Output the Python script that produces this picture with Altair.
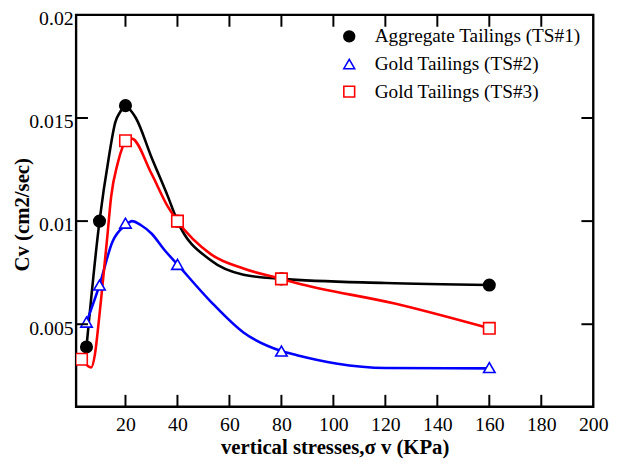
import altair as alt
import pandas as pd

series = ["Aggregate Tailings (TS#1)", "Gold Tailings (TS#2)", "Gold Tailings (TS#3)"]
colors = ["black", "blue", "red"]
fills = ["black", "white", "white"]
shapes = ["circle", "triangle-up", "square"]

# measured points (markers)
ts1_x = [5, 10, 20, 40, 80, 160]
ts1_y = [0.0039, 0.0100, 0.0156, 0.0100, 0.0072, 0.0069]
ts2_x = [5, 10, 20, 40, 80, 160]
ts2_y = [0.0051, 0.0069, 0.0099, 0.0079, 0.0037, 0.0029]
ts3_x = [3.1, 20, 40, 80, 160]
ts3_y = [0.0033, 0.0139, 0.0100, 0.0072, 0.0048]

# smoothed curves
ts1_cx = [5, 10, 13.6, 16.1, 18, 20, 22.4, 24, 30, 36.3, 40, 52.8, 65.4, 80, 120, 160]
ts1_cy = [0.0039, 0.0100, 0.0131, 0.0148, 0.0153, 0.0156, 0.0153, 0.0150, 0.0131, 0.0112, 0.0100, 0.0081, 0.0074, 0.0072, 0.0070, 0.0069]
ts2_cx = [5, 10, 15, 20, 22.5, 26, 30, 35, 40, 52.8, 65.4, 80, 86, 101, 120, 160]
ts2_cy = [0.0051, 0.0069, 0.0090, 0.0098, 0.0100, 0.0098, 0.0094, 0.0086, 0.0079, 0.0061, 0.0046, 0.0037, 0.0035, 0.0031, 0.00288, 0.00286]
ts3_cx = [3.1, 6.8, 8.2, 9.7, 11, 12.9, 14.5, 17, 18.9, 20, 22.4, 30, 36.3, 40, 52.8, 65.4, 80, 85.7, 123.6, 160]
ts3_cy = [0.0033, 0.0029, 0.0035, 0.0051, 0.0067, 0.0091, 0.0112, 0.0128, 0.0136, 0.0139, 0.0140, 0.0123, 0.0107, 0.0100, 0.0084, 0.0077, 0.0072, 0.0070, 0.0060, 0.0048]

x_ticks = [20, 40, 60, 80, 100, 120, 140, 160, 180, 200]
y_ticks = [0.005, 0.01, 0.015, 0.02]

W, H = 524, 397
FONT = "Liberation Serif"

pts = pd.DataFrame(
    [{"series": series[0], "x": a, "y": b} for a, b in zip(ts1_x, ts1_y)]
    + [{"series": series[1], "x": a, "y": b} for a, b in zip(ts2_x, ts2_y)]
    + [{"series": series[2], "x": a, "y": b} for a, b in zip(ts3_x, ts3_y)]
)
curve_sets = [(ts1_cx, ts1_cy), (ts2_cx, ts2_cy), (ts3_cx, ts3_cy)]
xt = pd.DataFrame({"x": x_ticks[:-1]})
yt = pd.DataFrame({"y": y_ticks[:-1]})

xscale = alt.Scale(domain=[1, 200], nice=False, zero=False)
yscale = alt.Scale(domain=[0.001, 0.02], nice=False, zero=False)

xaxis = alt.Axis(values=x_ticks, title="vertical stresses,σ v (KPa)")
yaxis = alt.Axis(values=y_ticks, format=".3~f", title="Cv (cm2/sec)")

layers = []
for k, (s, c) in enumerate(zip(series, colors)):
    cx, cy = curve_sets[k]
    df = pd.DataFrame({"x": cx, "y": cy, "i": list(range(len(cx)))})
    if k == 0:
        enc = dict(x=alt.X("x:Q", scale=xscale, axis=xaxis), y=alt.Y("y:Q", scale=yscale, axis=yaxis))
    else:
        enc = dict(x=alt.X("x:Q", scale=xscale), y=alt.Y("y:Q", scale=yscale))
    layers.append(
        alt.Chart(df).mark_line(color=c, strokeWidth=2.6, interpolate="monotone", clip=True)
        .encode(order=alt.Order("i:Q"), **enc)
    )

legend = alt.Legend(
    title=None, orient="none", legendX=267, legendY=12,
    labelFont=FONT, labelFontSize=19.5, labelColor="black", labelOffset=16,
    symbolSize=120, symbolStrokeWidth=1.6, rowPadding=7, labelLimit=400,
)
points = alt.Chart(pts).mark_point(size=135, strokeWidth=1.6, opacity=1, fillOpacity=1, clip=True).encode(
    x=alt.X("x:Q", scale=xscale), y=alt.Y("y:Q", scale=yscale),
    shape=alt.Shape("series:N", scale=alt.Scale(domain=series, range=shapes), legend=legend),
    stroke=alt.Stroke("series:N", scale=alt.Scale(domain=series, range=colors), legend=legend),
    fill=alt.Fill("series:N", scale=alt.Scale(domain=series, range=fills), legend=legend),
)
layers.append(points)

tick_style = dict(color="black", strokeWidth=2)
layers += [
    alt.Chart(xt).mark_rule(**tick_style).encode(
        x=alt.X("x:Q", scale=xscale), y=alt.value(H), y2=alt.value(H - 12)),
    alt.Chart(xt).mark_rule(**tick_style).encode(
        x=alt.X("x:Q", scale=xscale), y=alt.value(0), y2=alt.value(12)),
    alt.Chart(yt).mark_rule(**tick_style).encode(
        y=alt.Y("y:Q", scale=yscale), x=alt.value(0), x2=alt.value(12)),
    alt.Chart(yt).mark_rule(**tick_style).encode(
        y=alt.Y("y:Q", scale=yscale), x=alt.value(W), x2=alt.value(W - 12)),
]

chart = alt.layer(*layers).properties(
    width=W, height=H,
    background="white",
    autosize=alt.AutoSizeParams(type="none"),
    padding={"left": 69, "top": 4, "right": 20, "bottom": 50},
).configure_view(
    stroke="black", strokeWidth=2.4
).configure_axis(
    labelFont=FONT, titleFont=FONT, labelColor="black", titleColor="black",
    labelFontSize=20, titleFontSize=21, titleFontWeight="bold",
    ticks=False, domain=False, grid=False, labelFlush=False, labelOverlap=False,
).configure_axisX(
    labelPadding=8, titlePadding=2,
).configure_axisY(
    labelPadding=3, labelOffset=4,
    titleX=-48, titleY=202, titleBaseline="alphabetic", titleAngle=270, titleAlign="center",
).configure_legend(labelFont=FONT)

chart.save("out.html", embed_options={"renderer": "svg", "actions": False})
